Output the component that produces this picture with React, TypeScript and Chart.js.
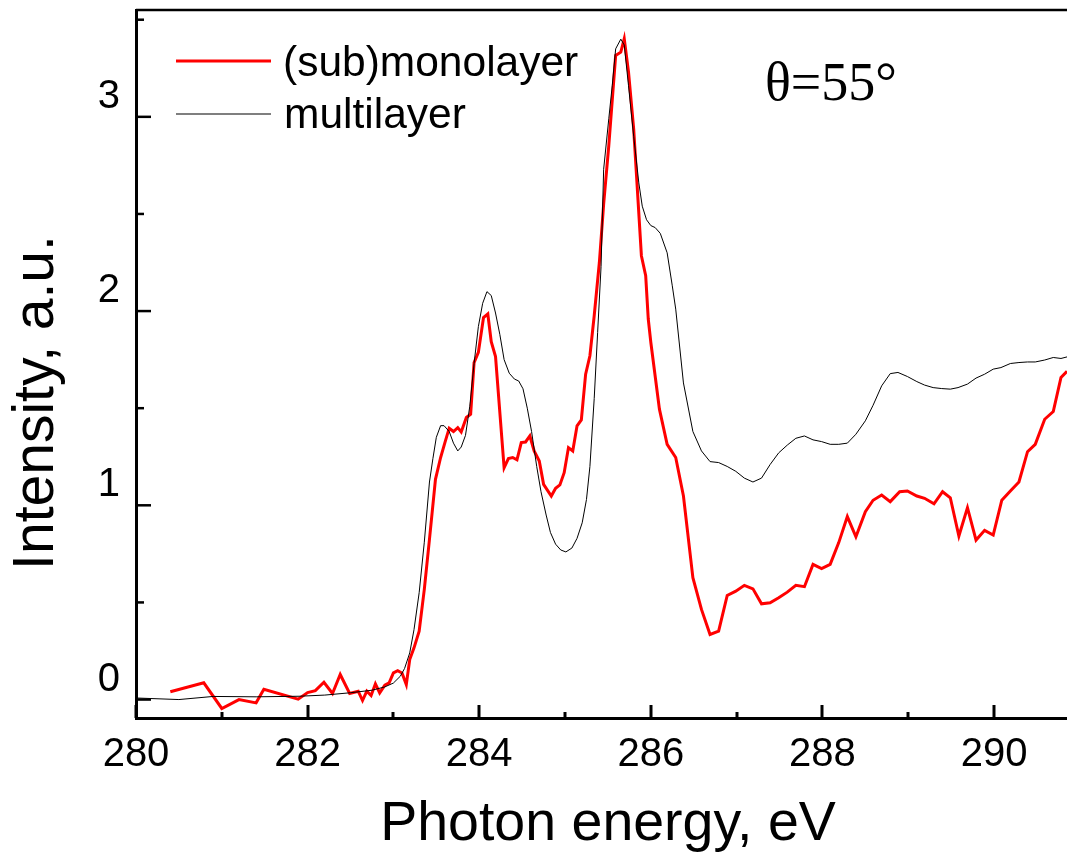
import React, { useEffect, useRef } from 'react';
import { Chart, registerables } from 'chart.js';

Chart.register(...registerables);

// ---- data ----
const monoEnergy = [
  280.40, 280.79, 281.00, 281.20, 281.40, 281.49, 281.89, 282.00, 282.09, 282.19,
  282.29, 282.38, 282.49, 282.59, 282.64, 282.69, 282.74, 282.79, 282.84, 282.90,
  282.95, 283.00, 283.05, 283.10, 283.15, 283.19, 283.24, 283.30, 283.36, 283.42,
  283.49, 283.55, 283.60, 283.65, 283.70, 283.75, 283.79, 283.85, 283.90, 283.94,
  283.99, 284.05, 284.10, 284.14, 284.19, 284.29, 284.34, 284.39, 284.44, 284.49,
  284.54, 284.59, 284.64, 284.70, 284.75, 284.84, 284.89, 284.94, 284.99, 285.04,
  285.09, 285.14, 285.19, 285.24, 285.29, 285.34, 285.40, 285.45, 285.51, 285.59,
  285.65, 285.69, 285.74, 285.80, 285.89, 285.94, 285.97, 286.00, 286.10, 286.19,
  286.29, 286.38, 286.49, 286.59, 286.69, 286.79, 286.89, 286.99, 287.09, 287.19,
  287.29, 287.39, 287.49, 287.59, 287.69, 287.79, 287.89, 287.99, 288.09, 288.19,
  288.29, 288.39, 288.50, 288.59, 288.69, 288.79, 288.90, 288.99, 289.10, 289.19,
  289.30, 289.40, 289.49, 289.59, 289.69, 289.79, 289.89, 289.99, 290.09, 290.19,
  290.29, 290.39, 290.48, 290.59, 290.69, 290.78, 290.85,
];
const monoIntensity = [
  0.040, 0.086, -0.046, 0.000, -0.017, 0.053, 0.002, 0.036, 0.046, 0.089,
  0.031, 0.129, 0.031, 0.043, -0.005, 0.043, 0.021, 0.081, 0.034, 0.074,
  0.086, 0.137, 0.149, 0.137, 0.077, 0.206, 0.266, 0.352, 0.567, 0.825,
  1.134, 1.246, 1.323, 1.397, 1.380, 1.400, 1.378, 1.452, 1.469, 1.735,
  1.787, 1.967, 1.985, 1.842, 1.766, 1.194, 1.241, 1.246, 1.234, 1.323,
  1.326, 1.357, 1.280, 1.228, 1.108, 1.048, 1.088, 1.105, 1.168, 1.297,
  1.280, 1.409, 1.440, 1.675, 1.770, 1.976, 2.250, 2.550, 2.852, 3.316,
  3.333, 3.402, 3.230, 2.938, 2.285, 2.182, 1.959, 1.838, 1.495, 1.314,
  1.246, 1.048, 0.627, 0.464, 0.335, 0.352, 0.536, 0.558, 0.588, 0.570,
  0.493, 0.498, 0.524, 0.553, 0.588, 0.581, 0.696, 0.674, 0.696, 0.808,
  0.942, 0.838, 0.967, 1.026, 1.053, 1.019, 1.070, 1.074, 1.048, 1.036,
  1.008, 1.070, 1.039, 0.842, 0.988, 0.821, 0.871, 0.847, 1.026, 1.074,
  1.120, 1.276, 1.314, 1.443, 1.483, 1.658, 1.690,
];
const multiEnergy = [
  280.00, 280.50, 280.90, 281.40, 281.90, 282.20, 282.50, 282.75, 282.90, 283.00,
  283.08, 283.13, 283.19, 283.24, 283.30, 283.36, 283.42, 283.46, 283.50, 283.55,
  283.59, 283.65, 283.70, 283.75, 283.79, 283.84, 283.89, 283.94, 283.99, 284.04,
  284.09, 284.14, 284.19, 284.24, 284.29, 284.35, 284.41, 284.46, 284.51, 284.56,
  284.61, 284.67, 284.72, 284.78, 284.83, 284.89, 284.95, 285.01, 285.08, 285.14,
  285.20, 285.25, 285.29, 285.34, 285.38, 285.42, 285.45, 285.51, 285.55, 285.59,
  285.65, 285.69, 285.74, 285.80, 285.86, 285.90, 285.95, 286.00, 286.05, 286.11,
  286.19, 286.25, 286.29, 286.38, 286.49, 286.59, 286.69, 286.79, 286.89, 286.99,
  287.09, 287.19, 287.29, 287.39, 287.49, 287.59, 287.69, 287.79, 287.89, 287.99,
  288.09, 288.19, 288.29, 288.39, 288.50, 288.59, 288.69, 288.79, 288.88, 288.99,
  289.10, 289.19, 289.29, 289.39, 289.49, 289.58, 289.69, 289.79, 289.89, 289.99,
  290.08, 290.19, 290.29, 290.39, 290.48, 290.59, 290.69, 290.78, 290.85,
];
const multiIntensity = [
  0.008, 0.000, 0.016, 0.014, 0.017, 0.023, 0.035, 0.048, 0.065, 0.085,
  0.120, 0.160, 0.240, 0.360, 0.550, 0.810, 1.120, 1.240, 1.350, 1.410,
  1.410, 1.380, 1.320, 1.280, 1.300, 1.360, 1.510, 1.730, 1.920, 2.040,
  2.100, 2.080, 1.990, 1.880, 1.750, 1.680, 1.650, 1.640, 1.600, 1.500,
  1.380, 1.200, 1.070, 0.950, 0.860, 0.800, 0.770, 0.760, 0.780, 0.830,
  0.910, 1.030, 1.200, 1.550, 1.890, 2.230, 2.730, 2.990, 3.160, 3.350,
  3.400, 3.370, 3.160, 2.900, 2.660, 2.540, 2.470, 2.440, 2.430, 2.400,
  2.300, 2.130, 2.010, 1.630, 1.380, 1.280, 1.225, 1.220, 1.200, 1.175,
  1.140, 1.120, 1.140, 1.210, 1.270, 1.310, 1.345, 1.357, 1.337, 1.328,
  1.314, 1.314, 1.320, 1.366, 1.435, 1.515, 1.615, 1.678, 1.684, 1.663,
  1.637, 1.619, 1.606, 1.601, 1.598, 1.606, 1.624, 1.655, 1.675, 1.701,
  1.709, 1.730, 1.735, 1.738, 1.738, 1.748, 1.761, 1.756, 1.764,
];
const xTicks = [280, 281, 282, 283, 284, 285, 286, 287, 288, 289, 290];
const xTickLabels = ['280', '', '282', '', '284', '', '286', '', '288', '', '290'];
const yTicks = [0, 0.5, 1, 1.5, 2, 2.5, 3, 3.5];
const yTickLabels = ['0', '', '1', '', '2', '', '3', ''];
const seriesNames = ['(sub)monolayer', 'multilayer'];
const xTitle = 'Photon energy, eV';
const yTitle = 'Intensity, a.u.';
const annotation = 'θ=55°';

const SANS = '"Liberation Sans", Arial, sans-serif';
const SERIF = '"Liberation Serif", "Times New Roman", serif';

const decorPlugin = {
  id: 'decor',
  afterDraw(chart: any) {
    const { ctx, chartArea } = chart;
    const xs = chart.scales.x;
    const ys = chart.scales.y;
    ctx.save();
    ctx.strokeStyle = '#000';
    ctx.lineCap = 'butt';
    // top frame line
    ctx.lineWidth = 2.5;
    ctx.beginPath();
    ctx.moveTo(chartArea.left, chartArea.top);
    ctx.lineTo(chartArea.right, chartArea.top);
    ctx.stroke();
    // x ticks (inward)
    ctx.lineWidth = 3;
    xTicks.forEach((v, i) => {
      const px = Math.round(xs.getPixelForValue(v));
      const len = xTickLabels[i] ? 13 : 6;
      ctx.beginPath();
      ctx.moveTo(px, chartArea.bottom);
      ctx.lineTo(px, chartArea.bottom - len);
      ctx.stroke();
    });
    // y ticks (inward)
    ctx.lineWidth = 2.5;
    yTicks.forEach((v, i) => {
      const py = ys.getPixelForValue(v);
      const len = yTickLabels[i] ? 15 : 8;
      ctx.beginPath();
      ctx.moveTo(chartArea.left, py);
      ctx.lineTo(chartArea.left + len, py);
      ctx.stroke();
    });
    // axis titles
    ctx.fillStyle = '#000';
    ctx.textBaseline = 'alphabetic';
    ctx.textAlign = 'center';
    ctx.font = `55.5px ${SANS}`;
    ctx.fillText(xTitle, 608, 840);
    ctx.save();
    ctx.translate(53, 402.5);
    ctx.rotate(-Math.PI / 2);
    ctx.font = `57px ${SANS}`;
    ctx.fillText(yTitle, 0, 0);
    ctx.restore();
    // legend
    ctx.textAlign = 'left';
    ctx.font = `42.5px ${SANS}`;
    ctx.strokeStyle = '#ff0000';
    ctx.lineWidth = 3;
    ctx.beginPath();
    ctx.moveTo(176, 61);
    ctx.lineTo(271, 61);
    ctx.stroke();
    ctx.fillText(seriesNames[0], 283, 76);
    ctx.strokeStyle = '#000';
    ctx.lineWidth = 1.2;
    ctx.beginPath();
    ctx.moveTo(176, 114);
    ctx.lineTo(271, 114);
    ctx.stroke();
    ctx.fillText(seriesNames[1], 284, 128);
    // annotation
    ctx.font = `54px ${SERIF}`;
    ctx.fillText(annotation, 765, 100);
    ctx.restore();
  },
};

export default function App() {
  const ref = useRef<HTMLCanvasElement>(null);
  useEffect(() => {
    const canvas = ref.current;
    if (!canvas) return;
    const mono = monoEnergy.map((e, i) => ({ x: e, y: monoIntensity[i] }));
    const multi = multiEnergy.map((e, i) => ({ x: e, y: multiIntensity[i] }));
    const chart = new Chart(canvas, {
      type: 'line',
      data: {
        datasets: [
          {
            label: seriesNames[0],
            data: mono,
            borderColor: '#ff0000',
            borderWidth: 3,
            pointRadius: 0,
            tension: 0,
            fill: false,
            order: 1,
          },
          {
            label: seriesNames[1],
            data: multi,
            borderColor: '#000000',
            borderWidth: 1,
            pointRadius: 0,
            tension: 0,
            fill: false,
            order: 0,
          },
        ],
      },
      options: {
        animation: false,
        responsive: false,
        devicePixelRatio: 1,
        layout: { padding: { top: 10, right: 0, left: 0, bottom: 0 } },
        plugins: {
          legend: { display: false },
          tooltip: { enabled: false },
          title: { display: false },
        },
        scales: {
          x: {
            type: 'linear',
            position: 'bottom',
            min: 280,
            max: 290.85,
            afterFit: (s: any) => {
              s.height = 144;
              s.paddingLeft = 0;
              s.paddingRight = 0;
            },
            afterBuildTicks: (s: any) => { s.ticks = xTicks.map((v) => ({ value: v })); },
            ticks: {
              autoSkip: false,
              maxRotation: 0,
              includeBounds: false,
              padding: 13,
              color: '#000',
              font: { family: SANS, size: 40 },
              callback: (v: any) => {
                const i = xTicks.indexOf(Number(v));
                return i >= 0 ? xTickLabels[i] : '';
              },
            },
            grid: { display: false, drawTicks: false },
            border: { display: true, color: '#000', width: 3 },
          },
          y: {
            type: 'linear',
            position: 'left',
            min: -0.095,
            max: 3.55,
            afterFit: (s: any) => {
              s.width = 136;
              s.paddingTop = 0;
              s.paddingBottom = 0;
            },
            afterBuildTicks: (s: any) => { s.ticks = yTicks.map((v) => ({ value: v })); },
            ticks: {
              autoSkip: false,
              includeBounds: false,
              padding: 16,
              labelOffset: -20,
              color: '#000',
              font: { family: SANS, size: 40 },
              callback: (v: any) => {
                const i = yTicks.indexOf(Number(v));
                return i >= 0 ? yTickLabels[i] : '';
              },
            },
            grid: { display: false, drawTicks: false },
            border: { display: true, color: '#000', width: 3 },
          },
        },
      },
      plugins: [decorPlugin],
    });
    return () => chart.destroy();
  }, []);
  return (
    <div style={{ position: 'absolute', left: 0, top: 0, width: 1067, height: 862, background: '#fff' }}>
      <canvas ref={ref} width={1067} height={862} style={{ display: 'block' }} />
    </div>
  );
}
